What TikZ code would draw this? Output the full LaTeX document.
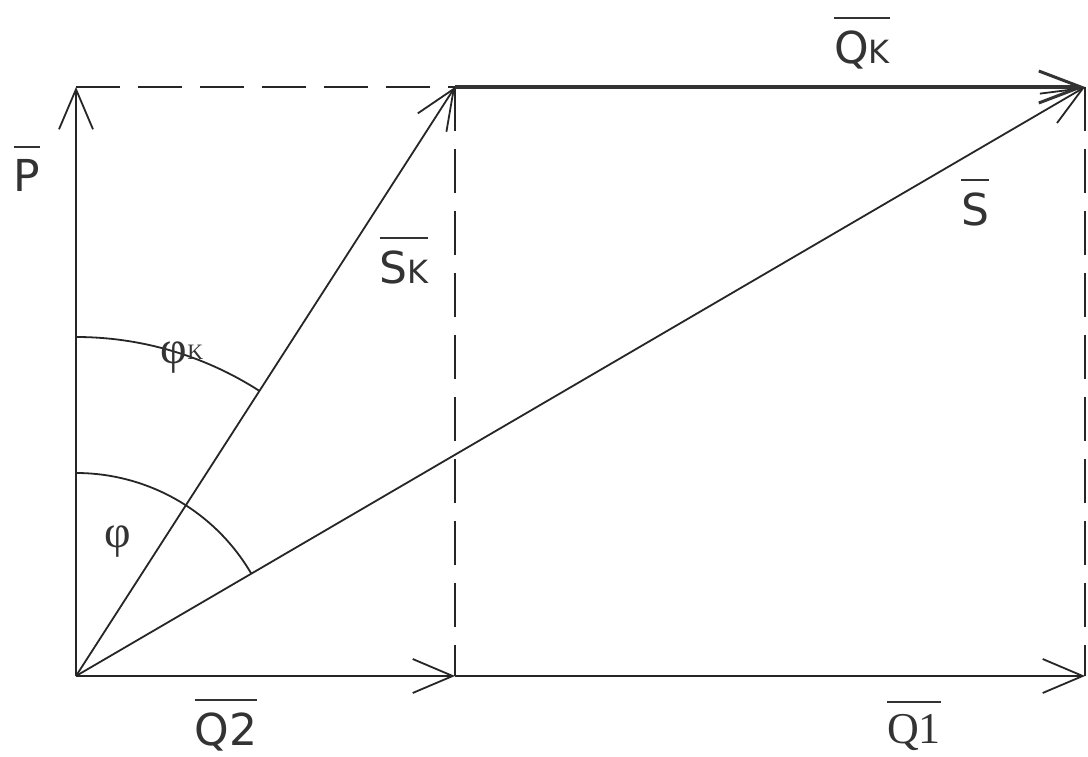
\documentclass[tikz,border=0pt]{standalone}
\usepackage{fontspec}
\setmainfont{DejaVu Sans}
\newfontfamily\serifQF{Liberation Serif}
\usetikzlibrary{arrows.meta,calc}
\newcommand\ovl[1]{\leavevmode\vbox{\hrule height 1.8pt\kern 12pt\hbox{#1}}}
\newcommand\smK{{\fontsize{32}{32}\selectfont K}}
\begin{document}
\begin{tikzpicture}[x=1pt,y=1pt,
  vec/.style={line width=1.8pt,draw=black!85,-{Straight Barb[length=40pt,width=34pt,line width=1.8pt]}},
  thick vec/.style={line width=3.6pt,draw=black!80,-{Straight Barb[length=42pt,width=32pt,line width=3pt]}},
  dashline/.style={line width=1.8pt,draw=black!85,dash pattern=on 44pt off 18pt},
  arcline/.style={line width=1.8pt,draw=black!85},
  lbl/.style={text=black!80,font=\fontsize{44}{44}\selectfont,inner sep=0pt},
  phil/.style={text=black!80,font=\serifQF\fontsize{46}{46}\selectfont,inner sep=0pt}]
\useasboundingbox[fill=white] (0,0) rectangle (1088,756);
\coordinate (O) at (76,80);
\coordinate (Ptop) at (76,669);
\coordinate (A) at (455,669);
\coordinate (B) at (1085,669);
\coordinate (C) at (455,80);
\coordinate (D) at (1085,80);
% dashed lines
\draw[dashline] (Ptop) -- (A);
\draw[dashline] (A) -- (C);
\draw[dashline] (B) -- (D);
% vectors
\draw[vec] (O) -- (Ptop);
\draw[vec] (O) -- (A);
\draw[vec] (O) -- (C);
\draw[vec] (C) -- (D);
\draw[vec] (O) -- (B);
\draw[thick vec] (A) -- (B);
% arcs
\draw[arcline] (O) ++(90:339) arc[start angle=90,end angle=57.2,radius=339];
\draw[arcline] (O) ++(90:203) arc[start angle=90,end angle=30.3,radius=203];
% labels
\node[lbl] (lP) at (27,587) {\ovl{P}};
\node[lbl] (lSk) at (404,495) {\ovl{S\smK}};
\node[lbl] (lQk) at (862,713) {\ovl{Q\smK}};
\node[lbl] (lS) at (975,553) {\ovl{S}};
\node[lbl] (lQ2) at (226,31) {\ovl{Q2}};
\node[lbl] (lQ1) at (914,30) {\serifQF\ovl{Q1}};
\node[phil] (lphik) at (182,398) {φ\raisebox{4pt}{\fontsize{22}{22}\selectfont K}};
\node[phil] (lphi) at (118,214) {φ};
\end{tikzpicture}
\end{document}
